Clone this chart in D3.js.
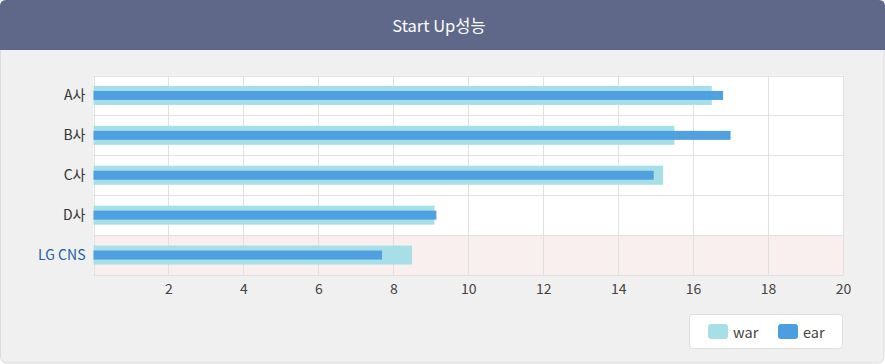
<!DOCTYPE html>
<html><head><meta charset="utf-8">
<script src="https://cdn.jsdelivr.net/npm/d3@7"></script>
<style>
html,body{margin:0;padding:0;background:#fff;}
svg{display:block;font-family:"Noto Sans CJK KR","Noto Sans",sans-serif;}
</style></head>
<body><svg id="c" width="885" height="364"></svg>
<script>
const title = "Start Up성능";
const categories = ["A사","B사","C사","D사","LG CNS"];
const seriesNames = ["war","ear"];
const warValues = [16.5, 15.5, 15.2, 9.1, 8.5];
const earValues = [16.8, 17.0, 14.95, 9.15, 7.7];
const xTicks = [2,4,6,8,10,12,14,16,18,20];
const colors = ["#a6e0e6","#4b9ee0"];

const svg = d3.select("#c");
const W = 885, H = 364;
// card
svg.append("rect").attr("x",0.5).attr("y",0.5).attr("width",W-1.5).attr("height",H-1.5)
  .attr("rx",6).attr("fill","#f0f0f0").attr("stroke","#dcdcdc");
// header
const hp = d3.path();
hp.moveTo(0,50); hp.lineTo(0,6); hp.quadraticCurveTo(0,0,6,0); hp.lineTo(W-6,0);
hp.quadraticCurveTo(W,0,W,6); hp.lineTo(W,50); hp.closePath();
svg.append("path").attr("d",hp.toString()).attr("fill","#5f6889");
svg.append("text").attr("x",439).attr("y",25).attr("text-anchor","middle")
  .attr("dominant-baseline","central").attr("fill","#fff").attr("font-size",16.5).text(title);

const m = {l:93.5, r:843, t:75.5, b:275};
const x = d3.scaleLinear().domain([0,20]).range([m.l,m.r]);
const y = d3.scaleBand().domain(categories).range([m.t,m.b]);

const g = svg.append("g");
g.append("rect").attr("x",m.l).attr("y",m.t).attr("width",m.r-m.l).attr("height",m.b-m.t).attr("fill","#fff");
g.append("rect").attr("x",m.l).attr("y",y("LG CNS")).attr("width",m.r-m.l).attr("height",y.bandwidth()).attr("fill","#f9efee");

// grid
g.selectAll("line.v").data([0].concat(xTicks)).join("line")
  .attr("x1",d=>Math.round(x(d))+0.5).attr("x2",d=>Math.round(x(d))+0.5)
  .attr("y1",m.t).attr("y2",m.b).attr("stroke","#e0e0e0").attr("stroke-width",1);
g.selectAll("line.h").data(d3.range(categories.length+1)).join("line")
  .attr("x1",m.l).attr("x2",m.r)
  .attr("y1",i=>Math.round(m.t+i*y.step())+0.5).attr("y2",i=>Math.round(m.t+i*y.step())+0.5)
  .attr("stroke","#e0e0e0");

// bars
const warH = 19, earH = 9;
g.selectAll("rect.war").data(categories).join("rect")
  .attr("x",x(0)).attr("y",(d)=>y(d)+y.bandwidth()/2-warH/2)
  .attr("width",(d,i)=>x(warValues[i])-x(0)).attr("height",warH).attr("fill",colors[0]);
g.selectAll("rect.ear").data(categories).join("rect")
  .attr("x",x(0)).attr("y",(d)=>y(d)+y.bandwidth()/2-earH/2)
  .attr("width",(d,i)=>x(earValues[i])-x(0)).attr("height",earH).attr("fill",colors[1]).attr("opacity",0.97);

// x axis
const xa = svg.append("g").attr("transform",`translate(0,${m.b})`)
  .call(d3.axisBottom(x).tickValues(xTicks).tickSize(0).tickPadding(9).tickFormat(d3.format("d")));
xa.select(".domain").remove();
xa.selectAll("text").attr("font-size",14).attr("fill","#444").attr("font-family","'Noto Sans CJK KR',sans-serif");

// y axis
const ya = svg.append("g").attr("transform",`translate(${m.l},0)`)
  .call(d3.axisLeft(y).tickSize(0).tickPadding(8));
ya.select(".domain").remove();
ya.selectAll("text").attr("font-size",14).attr("font-family","'Noto Sans CJK KR',sans-serif")
  .attr("fill",d=>d==="LG CNS"?"#1a5fa8":"#333");

// legend
const lg = svg.append("g");
lg.append("rect").attr("x",689.5).attr("y",314.5).attr("width",153).attr("height",34).attr("rx",3)
  .attr("fill","#fff").attr("stroke","#dedede");
const lx = [708, 778];
seriesNames.forEach((s,i)=>{
  lg.append("rect").attr("x",lx[i]).attr("y",324).attr("width",20).attr("height",15).attr("rx",3).attr("fill",colors[i]);
  lg.append("text").attr("x",lx[i]+25).attr("y",331.5).attr("dominant-baseline","central")
    .attr("font-size",14.5).attr("fill","#444").text(s);
});
</script></body></html>
